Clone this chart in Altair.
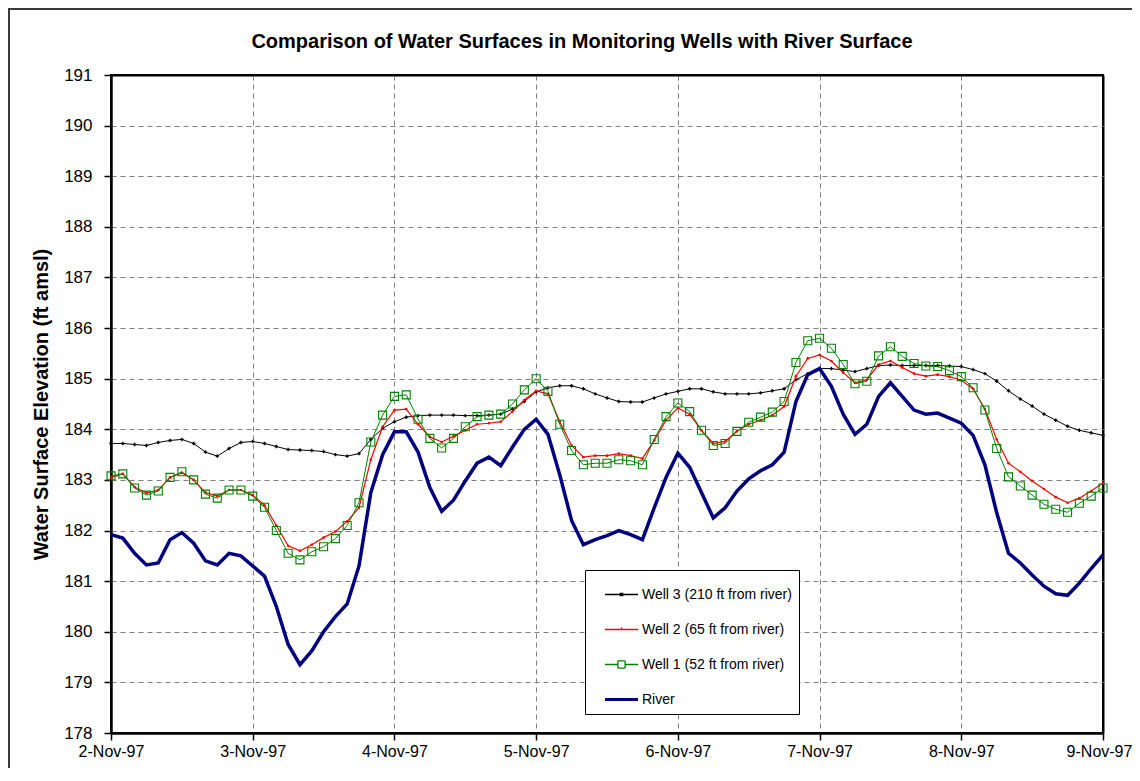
import json
import pandas as pd
import altair as alt

# ---------------- data ----------------
date_labels = ["2-Nov-97", "3-Nov-97", "4-Nov-97", "5-Nov-97",
               "6-Nov-97", "7-Nov-97", "8-Nov-97", "9-Nov-97"]
y_ticks = list(range(178, 192))

# readings every 2 hours from 2-Nov-97 00:00 to 9-Nov-97 00:00
step_hours = 2
n_points = 85
day = [i * step_hours / 24 for i in range(n_points)]

well3 = [183.72, 183.72, 183.70, 183.68, 183.74, 183.78, 183.80, 183.72, 183.55, 183.47,
         183.62, 183.74, 183.76, 183.72, 183.66, 183.60, 183.59, 183.58, 183.56, 183.50,
         183.47, 183.52, 183.80, 184.02, 184.15, 184.24, 184.27, 184.28, 184.28, 184.28,
         184.27, 184.27, 184.28, 184.30, 184.40, 184.55, 184.74, 184.82, 184.86, 184.86,
         184.80, 184.70, 184.62, 184.55, 184.54, 184.54, 184.62, 184.70, 184.75, 184.80,
         184.80, 184.74, 184.70, 184.70, 184.70, 184.72, 184.76, 184.80, 184.98, 185.10,
         185.20, 185.20, 185.17, 185.14, 185.20, 185.26, 185.27, 185.26, 185.26, 185.26,
         185.26, 185.25, 185.24, 185.18, 185.10, 184.95, 184.76, 184.60, 184.46, 184.30,
         184.18, 184.06, 183.98, 183.93, 183.88]

well2 = [183.05, 183.12, 182.86, 182.74, 182.80, 183.05, 183.14, 183.00, 182.75, 182.68,
         182.80, 182.80, 182.70, 182.50, 182.10, 181.70, 181.60, 181.72, 181.86, 181.98,
         182.18, 182.45, 183.40, 184.05, 184.38, 184.40, 184.10, 183.85, 183.75, 183.86,
         183.98, 184.10, 184.12, 184.15, 184.35, 184.58, 184.76, 184.70, 184.15, 183.68,
         183.45, 183.48, 183.48, 183.52, 183.48, 183.42, 183.78, 184.18, 184.42, 184.30,
         183.98, 183.72, 183.76, 183.96, 184.10, 184.18, 184.28, 184.45, 185.05, 185.40,
         185.47, 185.35, 185.12, 184.92, 184.98, 185.28, 185.35, 185.22, 185.10, 185.05,
         185.08, 185.04, 184.97, 184.80, 184.40, 183.80, 183.33, 183.16, 182.98, 182.82,
         182.66, 182.55, 182.64, 182.78, 182.94]

well1 = [183.08, 183.12, 182.84, 182.70, 182.78, 183.05, 183.16, 183.00, 182.72, 182.64,
         182.80, 182.80, 182.68, 182.46, 182.00, 181.55, 181.42, 181.58, 181.68, 181.84,
         182.10, 182.55, 183.75, 184.28, 184.65, 184.68, 184.20, 183.82, 183.63, 183.82,
         184.05, 184.25, 184.28, 184.30, 184.50, 184.78, 185.00, 184.75, 184.10, 183.58,
         183.30, 183.33, 183.33, 183.40, 183.38, 183.30, 183.80, 184.25, 184.52, 184.35,
         183.98, 183.68, 183.72, 183.96, 184.14, 184.24, 184.34, 184.55, 185.32, 185.75,
         185.80, 185.60, 185.28, 184.90, 184.95, 185.45, 185.63, 185.44, 185.30, 185.25,
         185.24, 185.16, 185.04, 184.82, 184.38, 183.62, 183.06, 182.88, 182.70, 182.52,
         182.42, 182.36, 182.54, 182.68, 182.84]

river = [181.92, 181.85, 181.55, 181.32, 181.36, 181.82, 181.96, 181.75, 181.40, 181.32,
         181.55, 181.50, 181.30, 181.10, 180.50, 179.75, 179.35, 179.62, 180.00, 180.30,
         180.55, 181.30, 182.75, 183.50, 183.95, 183.95, 183.55, 182.85, 182.38, 182.60,
         182.98, 183.33, 183.45, 183.28, 183.65, 184.00, 184.20, 183.90, 183.10, 182.20,
         181.72, 181.82, 181.90, 182.00, 181.92, 181.82, 182.45, 183.05, 183.53, 183.25,
         182.75, 182.25, 182.45, 182.78, 183.02, 183.18, 183.30, 183.55, 184.55, 185.08,
         185.20, 184.85, 184.30, 183.90, 184.10, 184.65, 184.92, 184.65, 184.38, 184.30,
         184.32, 184.22, 184.12, 183.88, 183.30, 182.35, 181.55, 181.36, 181.12, 180.90,
         180.75, 180.72, 180.96, 181.25, 181.52]

names = ["Well 3 (210 ft from river)", "Well 2 (65 ft from river)",
         "Well 1 (52 ft from river)", "River"]
colors = ["#000000", "#FF0000", "#008000", "#000080"]
# legend symbols: line with the series marker (custom SVG paths, unit box);
# the Well 1 square is drawn as four open strokes so that it stays hollow
legend_shapes = [
    "M-1,0H1M-0.07,-0.07H0.07V0.07H-0.07Z",
    "M-1,0H1M0,0V-0.12",
    "M-1,0H-0.22M0.22,0H1M-0.22,-0.22H0.22M0.22,-0.22V0.22M0.22,0.22H-0.22M-0.22,0.22V-0.22",
    "M-1,-0.05H1M-1,0H1M-1,0.05H1",
]

rows = []
for name, vals in zip(names, [well3, well2, well1, river]):
    for d, v in zip(day, vals):
        rows.append({"day": d, "value": v, "series": name})
df = pd.DataFrame(rows)

FONT = "Liberation Sans"
edge_x = "datum.value == 0 || datum.value == 7"
edge_y = "datum.value == 178 || datum.value == 191"

x_enc = alt.X(
    "day:Q",
    scale=alt.Scale(domain=[0, 7], nice=False, zero=False),
    axis=alt.Axis(
        values=list(range(len(date_labels))),
        labelExpr=f"{json.dumps(date_labels)}[datum.value]",
        title=None,
        labelFont=FONT, labelFontSize=16, labelColor="black", labelPadding=3,
        labelOffset={"condition": {"test": "datum.value == 7", "value": -4}, "value": 0},
        labelFlush=False, labelOverlap=False,
        tickSize=7, tickColor="black", tickWidth=1.5,
        domainColor="black", domainWidth=2,
        grid=True,
        gridColor={"condition": {"test": edge_x, "value": "black"}, "value": "#808080"},
        gridDash={"condition": {"test": edge_x, "value": []}, "value": [5, 4]},
        gridWidth={"condition": {"test": edge_x, "value": 2}, "value": 1},
    ),
)
y_enc = alt.Y(
    "value:Q",
    scale=alt.Scale(domain=[178, 191], nice=False, zero=False),
    axis=alt.Axis(
        values=y_ticks,
        title="Water Surface Elevation (ft amsl)",
        titleFont=FONT, titleFontSize=20, titleFontWeight="bold", titleColor="black",
        titlePadding=12,
        labelFont=FONT, labelFontSize=17, labelColor="black", labelPadding=12,
        labelFlush=False, labelOverlap=False,
        tickSize=7, tickColor="black", tickWidth=1.5,
        domainColor="black", domainWidth=2,
        grid=True,
        gridColor={"condition": {"test": edge_y, "value": "black"}, "value": "#808080"},
        gridDash={"condition": {"test": edge_y, "value": []}, "value": [5, 4]},
        gridWidth={"condition": {"test": edge_y, "value": 2}, "value": 1},
    ),
)
color_nolegend = alt.Color("series:N", scale=alt.Scale(domain=names, range=colors), legend=None)

base = alt.Chart(df)


def sub(name):
    return base.transform_filter(alt.datum.series == name)


w3_line = sub(names[0]).mark_line(strokeWidth=1).encode(x=x_enc, y=y_enc, color=color_nolegend)
w3_pts = sub(names[0]).mark_point(shape="cross", filled=True, size=12, opacity=1).encode(
    x=x_enc, y=y_enc, color=color_nolegend)
w2_line = sub(names[1]).mark_line(strokeWidth=1.2).encode(x=x_enc, y=y_enc, color=color_nolegend)
w2_pts = sub(names[1]).mark_point(shape="circle", filled=True, size=7, opacity=1).encode(
    x=x_enc, y=y_enc, color=color_nolegend)
w1_line = sub(names[2]).mark_line(strokeWidth=1).encode(x=x_enc, y=y_enc, color=color_nolegend)
w1_pts = sub(names[2]).mark_point(shape="square", filled=False, size=64, strokeWidth=1.1,
                                  opacity=1).encode(x=x_enc, y=y_enc, color=color_nolegend)
river_line = sub(names[3]).mark_line(strokeWidth=3.5).encode(x=x_enc, y=y_enc, color=color_nolegend)

leg = dict(
    title=None, orient="none", legendX=474, legendY=495,
    fillColor="white", strokeColor="black", padding=7, rowPadding=10,
    symbolSize=1089, symbolStrokeWidth=1.3, symbolOffset=12, symbolFillColor="white",
    labelFont=FONT, labelFontSize=14, labelColor="black", labelOffset=3, labelLimit=400,
)
legend_layer = base.transform_filter("false").mark_point(filled=False, opacity=1).encode(
    x=x_enc, y=y_enc,
    color=alt.Color("series:N", scale=alt.Scale(domain=names, range=colors), legend=alt.Legend(**leg)),
    shape=alt.Shape("series:N", scale=alt.Scale(domain=names, range=legend_shapes), legend=alt.Legend(**leg)),
)

frame = alt.Chart(pd.DataFrame({"k": [0]})).mark_rect(
    fill="white", fillOpacity=0, stroke="#3a3a3a", strokeWidth=2
).encode(x=alt.value(-102), x2=alt.value(1300), y=alt.value(-66), y2=alt.value(1000))

chart = alt.layer(
    legend_layer, frame, w3_line, w3_pts, w2_line, w2_pts, w1_line, w1_pts, river_line
).properties(
    width=992, height=658,
    title=alt.TitleParams(
        text="Comparison of Water Surfaces in Monitoring Wells with River Surface",
        font=FONT, fontSize=20, fontWeight="bold", color="black",
        anchor="middle", dx=-25, offset=-44,
    ),
    autosize=alt.AutoSizeParams(type="none"),
    padding={"left": 103, "top": 67, "right": 29, "bottom": 35},
).configure_view(stroke="black", strokeWidth=2)

chart.save("out.html", embed_options={"renderer": "svg", "actions": False})
